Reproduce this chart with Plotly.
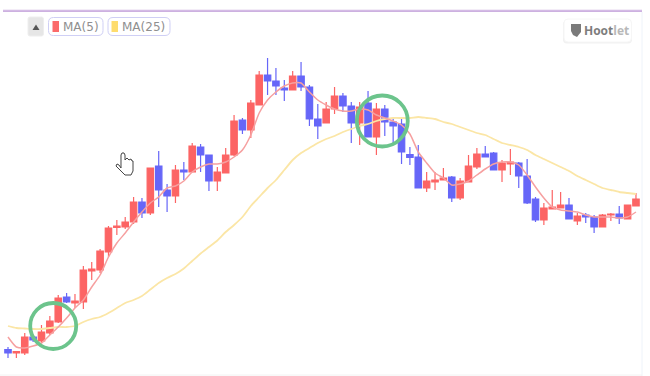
import plotly.graph_objects as go

W, H = 650, 376

open_ = [26.5,23,23,39,35,43,54,79,73,74,105,106,124,148.5,149,154,174,163,210,186,180,206,204,229,221,195,203,221,256,246,271,301,295,288,286,300,289,257,253,267,280,270,253,273,239,267,254,252,221.5,219,188,194,196,199,178,194,209,222,223,206,212,213,200,177,156,167,168,171,155,161,159,149,161,162,157,170]
high = [29,25,43,41,51,60,81,83,82,110,114,127,150,156,159,179,178,208,225,192,211,214,233,232,221,209,228,261,258,276,305,318,308,296,305,314,291,272,274,289,283,274,274,285,273,271,258,258,229,231,204,204,208,200,198,221,228,230,224,216,227,214,217,179,173,186,184,178,163,163,161,162,163,170,171,183]
low = [18,18,21,34,33,41,53,73,68,67,96,103,119,141,147,152,158,161,169,164,173,196,204,204,185,185,203,220,242,238,271,281,281,275,286,285,250,237,253,262,264,233,231,239,221,240,231,212,211,188,184,186,196,174,176,194,207,219,206,194,201,188,172,154,151,167,168,157,151,153,143,149,155,152,157,170]
close = [23,24.3,39,36,44,55,78,74,75,106,107,125,148,150,154,174,163,208,186,180,206,204,230,221,195,204,221,255,246,273,301,295,290,286,300,289,257,250,267,280,270,253,269,239,267,254,250,224,218.5,188,195,196,198,178,195,210,222,219,206,213,214,200,173,156,168,169,171,157,160,159,149,161,162,158,171,177]
ma5 = [39,29,28,30,33,41,49,58,68,76,89,101,119,133,143,154,164,173,179,188,190,195,204,209,212,212,214,219,226,241,263,276,284,290,293,293,284,276,271,267,265,265,267,266,261,258,255,251,242,224,213,203,198,191,192,195,201,207,212,214,214,211,201,189,178,169,166,165,164,161,159,159,159,158,159,164]
ma25 = [50,48,47.5,47,47,48,49,49,50,54,57,59,63,68,73,76,80,86.5,93,98,102,107.5,115,122.5,129,135.5,144,151,159,170,179,188,196,206,216,223,228,233,237,240,244,247,250,252,255,257,258,258,258,259,258,257,254,252,249,246,243,241,237,233,231,229,226,221,217,213,209,205,200,196,192,188,186,184,183,182]
periods = list(range(len(open_)))
highlight_periods = [5.4, 44.7]
highlight_levels = [50, 255]
highlight_sizes = [46, 51]

RED, BLUE = "#fc6464", "#6666f8"
STEP = 8.373
px = lambda x: x / W
py = lambda y: 1 - y / H


def path(points):
    return " ".join(
        f"{c} {px(x):.5f} {py(y):.5f}" if c != "Z" else "Z"
        for c, x, y in points
    )


def rounded(x0, y0, x1, y1, r):
    return (
        f"M {px(x0+r)} {py(y0)} L {px(x1-r)} {py(y0)} "
        f"Q {px(x1)} {py(y0)} {px(x1)} {py(y0+r)} L {px(x1)} {py(y1-r)} "
        f"Q {px(x1)} {py(y1)} {px(x1-r)} {py(y1)} L {px(x0+r)} {py(y1)} "
        f"Q {px(x0)} {py(y1)} {px(x0)} {py(y1-r)} L {px(x0)} {py(y0+r)} "
        f"Q {px(x0)} {py(y0)} {px(x0+r)} {py(y0)} Z"
    )


fig = go.Figure()
fig.add_trace(go.Candlestick(
    x=periods, open=open_, high=high, low=low, close=close, whiskerwidth=0,
    increasing=dict(line=dict(color=RED, width=1.2), fillcolor=RED),
    decreasing=dict(line=dict(color=BLUE, width=1.2), fillcolor=BLUE),
    name="Price",
))
fig.add_trace(go.Scatter(x=periods, y=ma25, mode="lines", name="MA(25)",
                         line=dict(color="#fbe6a6", width=1.8, shape="spline", smoothing=0.6)))
fig.add_trace(go.Scatter(x=periods, y=ma5, mode="lines", name="MA(5)",
                         line=dict(color="#f6a0a0", width=1.5, shape="spline", smoothing=0.6)))
fig.add_trace(go.Scatter(
    x=highlight_periods, y=highlight_levels, mode="markers", name="Signal",
    marker=dict(symbol="circle-open", size=highlight_sizes, color="#6cc48c", opacity=1,
                line=dict(color="#6cc48c", width=3.8)),
))

shapes = [
    dict(type="line", xref="paper", yref="paper", x0=px(3), x1=px(642), y0=py(11), y1=py(11),
         line=dict(color="#bd97d6", width=1.4)),
    dict(type="line", xref="paper", yref="paper", x0=px(3), x1=px(642), y0=py(9.7), y1=py(9.7),
         line=dict(color="#f1e8f6", width=1)),
    dict(type="line", xref="paper", yref="paper", x0=px(642), x1=px(642), y0=py(12), y1=py(376),
         line=dict(color="#eef3fa", width=1)),
    dict(type="line", xref="paper", yref="paper", x0=0, x1=px(642), y0=py(375), y1=py(375),
         line=dict(color="#f2f2f2", width=1)),
    # collapse button
    dict(type="path", xref="paper", yref="paper", path=rounded(28, 17, 43.5, 36, 2),
         fillcolor="#e6e6e6", line=dict(color="#eeeeee", width=1)),
    dict(type="path", xref="paper", yref="paper",
         path=path([("M", 32.5, 30), ("L", 39.5, 30), ("L", 36, 24.5), ("Z", 0, 0)]),
         fillcolor="#555555", line=dict(width=0)),
    # legend chips
    dict(type="path", xref="paper", yref="paper", path=rounded(48.5, 17.5, 103, 35.5, 5),
         fillcolor="white", line=dict(color="#cfcff5", width=1)),
    dict(type="path", xref="paper", yref="paper", path=rounded(108, 17.5, 170, 35.5, 5),
         fillcolor="white", line=dict(color="#cfcff5", width=1)),
    dict(type="rect", xref="paper", yref="paper", x0=px(52.5), x1=px(59), y0=py(21), y1=py(32),
         fillcolor="#fb6a6a", line=dict(width=0)),
    dict(type="rect", xref="paper", yref="paper", x0=px(111.5), x1=px(118), y0=py(21), y1=py(32),
         fillcolor="#fedc6e", line=dict(width=0)),
    # Hootlet badge
    dict(type="path", xref="paper", yref="paper", path=rounded(563, 20.5, 632, 43.5, 4),
         fillcolor="#f1f1f1", line=dict(width=0)),
    dict(type="path", xref="paper", yref="paper", path=rounded(564, 19, 631.5, 42, 4),
         fillcolor="white", line=dict(color="#f6f6f6", width=1)),
    dict(type="path", xref="paper", yref="paper",
         path=path([("M", 571, 24), ("L", 581, 24), ("L", 581, 32), ("L", 577, 37),
                    ("L", 573, 35), ("L", 571, 31), ("Z", 0, 0)]),
         fillcolor="#7a7a7a", line=dict(width=0)),
    # hand cursor
    dict(type="path", xref="paper", yref="paper",
         path=path([("M", 121, 168), ("L", 121, 155), ("L", 122, 153), ("L", 124, 153), ("L", 125, 155),
                    ("L", 125, 160), ("L", 127, 158), ("L", 129, 160), ("L", 131, 159), ("L", 132, 161),
                    ("L", 133, 161), ("L", 133, 171), ("L", 131, 175), ("L", 125, 175), ("L", 122, 172),
                    ("L", 116, 166), ("L", 117, 164), ("L", 119, 165), ("Z", 0, 0)]),
         fillcolor="white", line=dict(color="#444444", width=1)),
]

annotations = [
    dict(x=px(61), y=py(26.5), xref="paper", yref="paper", xanchor="left", yanchor="middle",
         text="MA(5)", showarrow=False, font=dict(family="DejaVu Sans", size=12, color="#8f8f8f")),
    dict(x=px(120), y=py(26.5), xref="paper", yref="paper", xanchor="left", yanchor="middle",
         text="MA(25)", showarrow=False, font=dict(family="DejaVu Sans", size=12, color="#8f8f8f")),
    dict(x=px(582), y=py(30.5), xref="paper", yref="paper", xanchor="left", yanchor="middle",
         text='<b>Hoot</b><b><span style="color:#b8b8b8">let</span></b>',
         showarrow=False, font=dict(family="Open Sans", size=12, color="#7d7d7d")),
]

fig.update_layout(
    width=W, height=H, margin=dict(l=0, r=0, t=0, b=0),
    paper_bgcolor="white", plot_bgcolor="white", showlegend=False,
    boxgap=0.15, boxgroupgap=0.1,
    xaxis=dict(range=[-8 / STEP, (W - 8) / STEP], visible=False, rangeslider=dict(visible=False)),
    yaxis=dict(range=[0, H], visible=False),
    shapes=shapes, annotations=annotations,
)

fig.write_html("out.html", config=dict(displayModeBar=False),
               post_script="document.body.style.margin='0';")
